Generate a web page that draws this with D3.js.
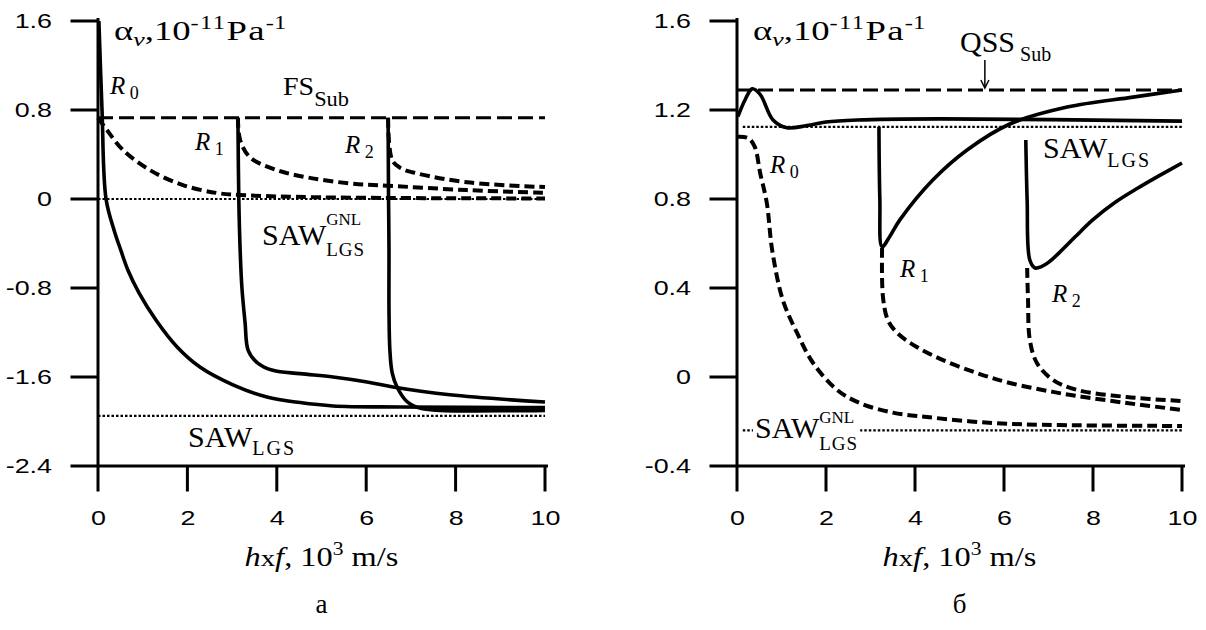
<!DOCTYPE html>
<html>
<head>
<meta charset="utf-8">
<script src="https://cdn.jsdelivr.net/npm/d3@7"></script>
</head>
<body style="margin:0">
<script>
// ---------- data ----------
var xTicks = [0, 2, 4, 6, 8, 10];
var yTicksA = [1.6, 0.8, 0, -0.8, -1.6, -2.4];
var yTicksB = [1.6, 1.2, 0.8, 0.4, 0, -0.4];

// panel a : limiting levels
var aFsSub = 0.73, aSawGnl = 0, aSawLgs = -1.95;

// panel a : solid curves [hxf, alpha]
var aR0Solid = [[0.02,1.6],[0.09,0.8],[0.18,0],[0.36,-0.28],[0.51,-0.46],[0.67,-0.64],[0.92,-0.845],
  [1.3,-1.09],[1.77,-1.33],[2.28,-1.51],[3.02,-1.67],[3.78,-1.78],[4.52,-1.83],[5.26,-1.86],[6.76,-1.87],[10,-1.875]];
var aR1Solid = [[3.13,0.73],[3.15,0],[3.18,-0.46],[3.22,-0.8],[3.29,-1.11],[3.36,-1.36],[3.56,-1.47],[3.91,-1.54],
  [4.52,-1.57],[5.26,-1.6],[6.02,-1.645],[6.6,-1.69],[7.87,-1.76],[10,-1.825]];
var aR2Solid = [[6.49,0.73],[6.5,0],[6.51,-0.46],[6.51,-1.0],[6.53,-1.36],[6.58,-1.56],[6.69,-1.69],[6.91,-1.82],
  [7.2,-1.88],[7.65,-1.9],[10,-1.9]];
// panel a : dashed curves
var aR0Dash = [[0,0.73],[0.2,0.62],[0.56,0.44],[1.16,0.26],[1.9,0.125],[2.66,0.054],[3.18,0.036],[5,0.015],[10,0.005]];
var aR1Dash = [[3.13,0.73],[3.18,0.53],[3.4,0.375],[4.0,0.26],[4.74,0.19],[5.64,0.14],[6.47,0.12],[8.25,0.08],[10,0.055]];
var aR2Dash = [[6.49,0.73],[6.58,0.35],[6.76,0.28],[7.14,0.23],[8.26,0.15],[10,0.107]];

// panel b : limiting levels
var bQssSub = 1.29, bSawLgs = 1.124, bSawGnl = -0.24, bQssArrowX = 5.57;

// panel b : solid curves
var bR0Solid = [[0.02,1.17],[0.18,1.245],[0.34,1.295],[0.52,1.27],[0.81,1.155],[1.12,1.12],[1.57,1.13],
  [2.0,1.146],[2.7,1.155],[4.56,1.16],[10,1.15]];
var bR1Solid = [[3.19,1.124],[3.21,0.8],[3.26,0.585],[3.44,0.634],[3.66,0.706],[4.4,0.885],[5.17,1.02],
  [6.13,1.137],[7.42,1.213],[8.9,1.258],[10,1.29]];
var bR2Solid = [[6.49,1.065],[6.52,0.795],[6.58,0.526],[6.7,0.49],[6.85,0.497],[7.0,0.515],[7.25,0.56],
  [7.6,0.63],[8.0,0.707],[8.5,0.785],[9.0,0.848],[9.5,0.906],[10,0.962]];
// panel b : dashed curves
var bR0Dash = [[0,1.08],[0.25,1.074],[0.4,1.034],[0.52,0.917],[0.67,0.782],[0.79,0.571],[1.03,0.346],[1.35,0.198],
  [1.71,0.063],[2.25,-0.058],[2.76,-0.117],[3.5,-0.16],[4.27,-0.18],[5.75,-0.207],[7.26,-0.216],[10,-0.22]];
var bR1Dash = [[3.26,0.58],[3.28,0.36],[3.39,0.256],[3.6,0.198],[4.04,0.135],[4.63,0.076],[5.39,0.018],
  [6.13,-0.027],[7.1,-0.067],[7.64,-0.085],[8.76,-0.117],[10,-0.148]];
var bR2Dash = [[6.52,0.49],[6.54,0.346],[6.58,0.166],[6.74,0.063],[7.1,-0.013],[7.64,-0.058],[8.76,-0.09],[10,-0.108]];

// ---------- canvas ----------
var svg = d3.select("body").append("svg")
  .attr("width", 1206)
  .attr("height", 630);

var top0 = 21, bottom0 = 466;
var yTickLen = 26, xTickLen = 24;
var serif = "Liberation Serif, Times New Roman, serif";

// rich text: parts = {t, size, it, shift, back, ls}; opt = {sx, anchor}
function rich(g, x, y, parts, opt) {
  opt = opt || {};
  var sx = opt.sx || 1;
  var t = g.append("text").attr("font-family", serif).attr("fill", "#000").attr("x", 0).attr("y", 0);
  var cur = 0, prevStart = 0;
  parts.forEach(function(p) {
    var before = t.node().getComputedTextLength();
    var s = t.append("tspan").text(p.t).attr("font-size", p.size);
    if (p.it) s.attr("font-style", "italic");
    if (p.ls) s.attr("letter-spacing", p.ls);
    if (p.back) { s.attr("x", prevStart); } else { prevStart = before; }
    var sh = p.shift || 0;
    s.attr("dy", sh - cur);
    cur = sh;
  });
  var ox = x;
  if (opt.anchor === "middle") ox = x - t.node().getComputedTextLength() * sx / 2;
  t.attr("transform", "translate(" + ox + "," + y + ") scale(" + sx + ",1)");
  return t;
}

function drawPanel(opt) {
  var g = svg.append("g");
  var x = d3.scaleLinear().domain([0, 10]).range([opt.left, opt.right]);
  var y = d3.scaleLinear().domain(opt.yDomain).range([bottom0, top0]);

  var line = d3.line()
    .x(function(d) { return x(d[0]); })
    .y(function(d) { return y(d[1]); })
    .curve(d3.curveCatmullRom.alpha(0.5));

  // limit levels
  opt.dotted.forEach(function(v) {
    g.append("path").datum([[opt.dotStart, v], [10, v]])
      .attr("d", line).attr("fill", "none").attr("stroke", "#000")
      .attr("stroke-width", 2.2).attr("stroke-dasharray", "2.5,2");
  });
  g.append("path").datum([[0, opt.dashedLevel], [10, opt.dashedLevel]])
    .attr("d", line).attr("fill", "none").attr("stroke", "#000")
    .attr("stroke-width", 3).attr("stroke-dasharray", "15,6");

  opt.dashed.forEach(function(c) {
    g.append("path").datum(c).attr("d", line).attr("fill", "none")
      .attr("stroke", "#000").attr("stroke-width", 4).attr("stroke-dasharray", "10,5");
  });
  opt.solid.forEach(function(c) {
    g.append("path").datum(c).attr("d", line).attr("fill", "none")
      .attr("stroke", "#000").attr("stroke-width", 3.6).attr("stroke-linejoin", "round");
  });

  // tick labels from d3 axes
  var ya = g.append("g")
    .attr("transform", "translate(" + opt.left + ",0)")
    .call(d3.axisLeft(y).tickValues(opt.yTicks).tickSize(yTickLen).tickSizeOuter(0).tickPadding(20)
      .tickFormat(function(d) { return d === 0 ? "0" : d.toFixed(1); }))
    .attr("font-family", "Liberation Sans, Arial, sans-serif").attr("font-size", 21);
  ya.selectAll(".tick text").each(function() {
    var t = d3.select(this), tx = +t.attr("x");
    t.attr("x", 0).attr("transform", "translate(" + tx + ",0) scale(1.28,1)");
  });
  ya.selectAll(".tick line").remove();
  ya.select(".domain").remove();

  var xa = g.append("g")
    .attr("transform", "translate(0," + bottom0 + ")")
    .call(d3.axisBottom(x).tickValues(xTicks).tickSize(xTickLen).tickSizeOuter(0).tickPadding(20))
    .attr("font-family", "Liberation Sans, Arial, sans-serif").attr("font-size", 21);
  xa.selectAll(".tick text").attr("transform", "scale(1.28,1)");
  xa.selectAll(".tick line").remove();
  xa.select(".domain").remove();

  // axis frame and tick marks as one path, placed through the scales
  var p = d3.path();
  p.moveTo(opt.left, top0 - 1.5); p.lineTo(opt.left, bottom0);
  p.moveTo(opt.left, bottom0); p.lineTo(opt.right + 1.5, bottom0);
  opt.yTicks.forEach(function(v) { p.moveTo(opt.left - yTickLen, y(v)); p.lineTo(opt.left, y(v)); });
  xTicks.forEach(function(v) { p.moveTo(x(v), bottom0); p.lineTo(x(v), bottom0 + xTickLen); });
  g.append("path").attr("d", p.toString()).attr("fill", "none")
    .attr("stroke", "#000").attr("stroke-width", 3).attr("stroke-linecap", "square");

  // y title
  rich(g, opt.left + 16, 40, [
    {t: "\u03b1", size: 27}, {t: "v", size: 19, it: true, shift: 6}, {t: ",10", size: 27},
    {t: "-11", size: 18, shift: -11, ls: 1}, {t: "Pa", size: 27, ls: 1}, {t: "-1", size: 18, shift: -11}
  ], {sx: 1.36});
  // x title
  var mid = (opt.left + opt.right) / 2;
  rich(g, mid, 566, [
    {t: "h", size: 27, it: true}, {t: "x", size: 24}, {t: "f", size: 27, it: true}, {t: ", 10", size: 27},
    {t: "3", size: 18, shift: -11}, {t: " m/s", size: 27}
  ], {anchor: "middle", sx: 1.2});
  rich(g, mid, 613, [{t: opt.letter, size: 27}], {anchor: "middle"});

  return {g: g, x: x, y: y};
}

function rLabel(g, x, y, n) {
  rich(g, x, y, [{t: "R", size: 25, it: true}, {t: " " + n, size: 18, shift: 5}]);
}

// ---------- panel a ----------
var pa = drawPanel({
  left: 98, right: 545, yDomain: [-2.4, 1.6], yTicks: yTicksA, letter: "a",
  dotted: [aSawGnl, aSawLgs], dotStart: 0, dashedLevel: aFsSub,
  dashed: [aR0Dash, aR1Dash, aR2Dash], solid: [aR0Solid, aR1Solid, aR2Solid]
});
rLabel(pa.g, 110, 94, 0);
rLabel(pa.g, 195, 150, 1);
rLabel(pa.g, 345, 153, 2);
rich(pa.g, 283, 95, [{t: "FS", size: 25}, {t: "Sub", size: 20, shift: 11}], {sx: 1.12});
rich(pa.g, 262, 245, [{t: "SAW", size: 30}, {t: "GNL", size: 17, shift: -20}, {t: "LGS", size: 19, shift: 11, back: true, ls: 1}]);
rich(pa.g, 188, 447, [{t: "SAW", size: 30}, {t: "LGS", size: 20, shift: 8, ls: 2}]);

// ---------- panel b ----------
var pb = drawPanel({
  left: 737, right: 1182, yDomain: [-0.4, 1.6], yTicks: yTicksB, letter: "\u0431",
  dotted: [bSawLgs, bSawGnl], dotStart: 0.13, dashedLevel: bQssSub,
  dashed: [bR0Dash, bR1Dash, bR2Dash], solid: [bR0Solid, bR1Solid, bR2Solid]
});
rLabel(pb.g, 770, 173, 0);
rLabel(pb.g, 900, 277, 1);
rLabel(pb.g, 1052, 302, 2);
rich(pb.g, 960, 52, [{t: "QSS", size: 30}, {t: " Sub", size: 20, shift: 9}]);
rich(pb.g, 1043, 158, [{t: "SAW", size: 30}, {t: "LGS", size: 20, shift: 9, ls: 2}]);
// white backing so the dotted level passes behind the label
var gnl = rich(pb.g, 755, 438, [{t: "SAW", size: 30}, {t: "GNL", size: 17, shift: -15}, {t: "LGS", size: 19, shift: 12, back: true, ls: 1}]);
var bb = gnl.node().getBBox();
pb.g.insert("rect", function() { return gnl.node(); })
  .attr("x", 755 + bb.x - 2).attr("y", pb.y(bSawGnl) - 3).attr("width", bb.width + 4).attr("height", 6).attr("fill", "#fff");

// arrow to QSS level
var qx = pb.x(bQssArrowX), qy = pb.y(bQssSub);
pb.g.append("line")
  .attr("x1", qx).attr("x2", qx).attr("y1", 60).attr("y2", qy - 3)
  .attr("stroke", "#000").attr("stroke-width", 1.5);
pb.g.append("path")
  .attr("d", "M" + (qx - 4) + "," + (qy - 10) + " L" + qx + "," + (qy - 2) + " L" + (qx + 4) + "," + (qy - 10))
  .attr("fill", "none").attr("stroke", "#000").attr("stroke-width", 1.5);
</script>
</body>
</html>
